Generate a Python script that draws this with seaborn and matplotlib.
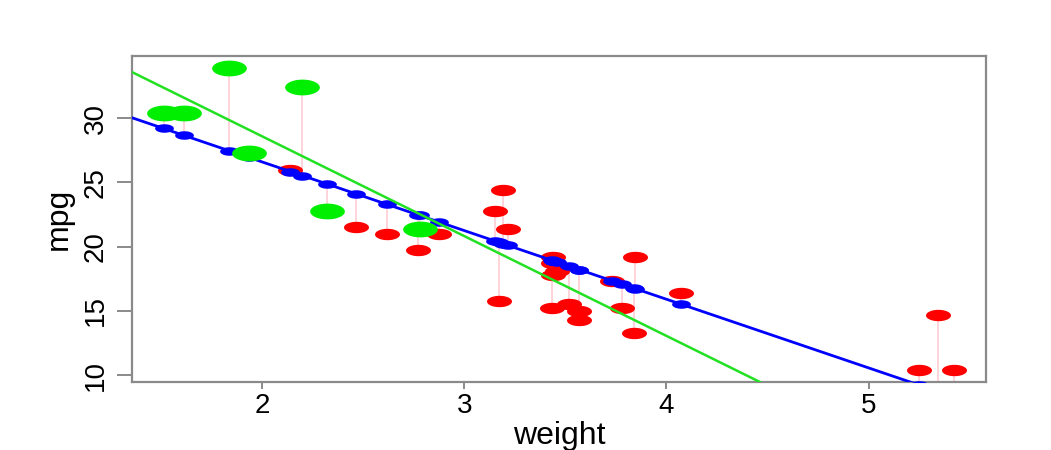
import matplotlib
matplotlib.use('Agg')
import matplotlib.pyplot as plt
from matplotlib.path import Path
import numpy as np
import pandas as pd
import seaborn as sns

# mtcars: weight (1000 lbs) vs miles per gallon
car = ['Mazda RX4', 'Mazda RX4 Wag', 'Datsun 710', 'Hornet 4 Drive', 'Hornet Sportabout',
       'Valiant', 'Duster 360', 'Merc 240D', 'Merc 230', 'Merc 280', 'Merc 280C',
       'Merc 450SE', 'Merc 450SL', 'Merc 450SLC', 'Cadillac Fleetwood', 'Lincoln Continental',
       'Chrysler Imperial', 'Fiat 128', 'Honda Civic', 'Toyota Corolla', 'Toyota Corona',
       'Dodge Challenger', 'AMC Javelin', 'Camaro Z28', 'Pontiac Firebird', 'Fiat X1-9',
       'Porsche 914-2', 'Lotus Europa', 'Ford Pantera L', 'Ferrari Dino', 'Maserati Bora',
       'Volvo 142E']
wt = [2.620, 2.875, 2.320, 3.215, 3.440, 3.460, 3.570, 3.190, 3.150, 3.440, 3.440,
      4.070, 3.730, 3.780, 5.250, 5.424, 5.345, 2.200, 1.615, 1.835, 2.465, 3.520,
      3.435, 3.840, 3.845, 1.935, 2.140, 1.513, 3.170, 2.770, 3.570, 2.780]
mpg = [21.0, 21.0, 22.8, 21.4, 18.7, 18.1, 14.3, 24.4, 22.8, 19.2, 17.8,
       16.4, 17.3, 15.2, 10.4, 10.4, 14.7, 32.4, 30.4, 33.9, 21.5, 15.5,
       15.2, 13.3, 19.2, 27.3, 26.0, 30.4, 15.8, 19.7, 15.0, 21.4]
# highlighted group (green)
light = [0, 0, 1, 0, 0, 0, 0, 0, 0, 0, 0,
         0, 0, 0, 0, 0, 0, 1, 1, 1, 0, 0,
         0, 0, 0, 1, 0, 1, 0, 0, 0, 1]
xticks = [2, 3, 4, 5]
yticks = [10, 15, 20, 25, 30]

df = pd.DataFrame({'car': car, 'wt': wt, 'mpg': mpg, 'light': light})
slope, icpt = np.polyfit(df['wt'], df['mpg'], 1)
df['fit'] = icpt + slope * df['wt']
green = df[df['light'] == 1]

# oval marker (reference image is stretched sideways)
t = np.linspace(0, 2 * np.pi, 60)
oval = Path(np.column_stack([2.2 * np.cos(t), np.sin(t)]), closed=True)

sns.set_style('white')
plt.rcParams['font.family'] = ['Liberation Sans', 'DejaVu Sans']
plt.rcParams['text.color'] = 'black'
plt.rcParams['axes.labelcolor'] = 'black'
plt.rcParams['xtick.color'] = 'black'
plt.rcParams['ytick.color'] = 'black'

fig, ax = plt.subplots(figsize=(10.51, 4.5), dpi=100)
fig.subplots_adjust(left=0.1256, right=0.938, top=0.8756, bottom=0.151)
xlim = (1.357, 5.58)
ylim = (9.46, 34.84)

ax.vlines(df['wt'], df['mpg'], df['fit'], color='#ffd3da', lw=1.4, zorder=1)
sns.scatterplot(data=df, x='wt', y='mpg', marker=oval, s=18 ** 2, color='#ff0000',
                linewidth=0, ax=ax, zorder=2)
ax.set_xlim(xlim); ax.set_ylim(ylim)
sns.regplot(data=df, x='wt', y='mpg', scatter=False, ci=None, truncate=False, color='#0000ff',
            line_kws=dict(lw=2.0, zorder=3), ax=ax)
sns.scatterplot(data=df, x='wt', y='fit', marker=oval, s=13.5 ** 2, color='#0000ff',
                linewidth=0, ax=ax, zorder=4)
sns.scatterplot(data=green, x='wt', y='mpg', marker=oval, s=25 ** 2, color='#00ee00',
                linewidth=0, ax=ax, zorder=5)
ax.set_xlim(xlim); ax.set_ylim(ylim)
sns.regplot(data=green, x='wt', y='mpg', scatter=False, ci=None, truncate=False, color='#22e022',
            line_kws=dict(lw=1.8, zorder=6), ax=ax)
ax.set_xlim(xlim); ax.set_ylim(ylim)

ax.set_xticks(xticks)
ax.set_yticks(yticks)
ax.set_yticklabels([str(v) for v in yticks], rotation=90, va='center')
ax.tick_params(axis='x', labelsize=20, length=5, width=1.2, color='#777777', pad=3, bottom=True)
ax.tick_params(axis='y', labelsize=20, length=11, width=1.2, color='#777777', pad=6, left=True)
for s in ax.spines.values():
    s.set_color('#8a8a8a')
    s.set_linewidth(1.6)
ax.set_xlabel('weight', fontsize=23, labelpad=1)
ax.set_ylabel('mpg', fontsize=23, labelpad=6)

fig.savefig('out.png', dpi=100)
